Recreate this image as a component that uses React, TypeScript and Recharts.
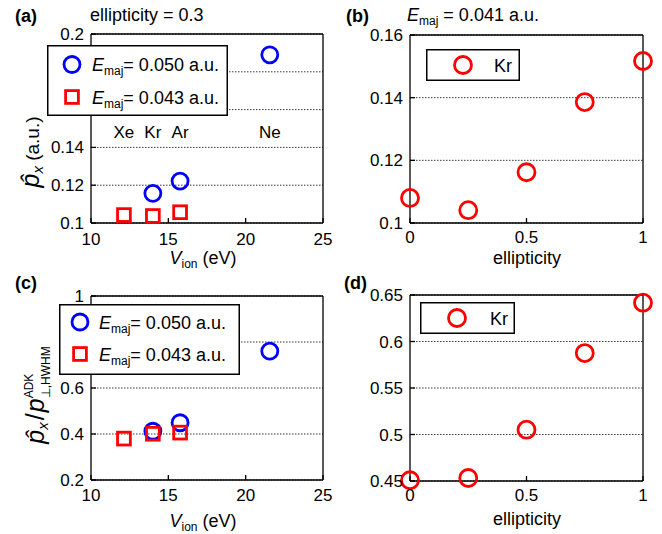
import React from "react";
import { ScatterChart, Scatter, XAxis, YAxis, CartesianGrid, Legend, ReferenceDot } from "recharts";

const FONT = '"Liberation Sans", Arial, Helvetica, sans-serif';
const BLUE = "#0000ff";
const RED = "#ff0000";

// rare gases and their ionization potentials (eV)
const GASES = ["Xe", "Kr", "Ar", "Ne"];
const V_ION = [12.13, 14.0, 15.76, 21.56];

// (a) p_x (a.u.) at ellipticity 0.3, null = no point
const PX_E050 = [null, 0.1157, 0.1222, 0.189];
const PX_E043 = [0.1042, 0.1037, 0.1057, null];

// (c) p_x / p_perp,HWHM (ADK)
const RATIO_E050 = [null, 0.412, 0.449, 0.76];
const RATIO_E043 = [0.38, 0.401, 0.406, null];

// (b), (d) Kr vs ellipticity
const ELLIPTICITY = [0, 0.25, 0.5, 0.75, 1];
const PX_KR = [0.108, 0.1041, 0.1162, 0.1386, 0.1517];
const RATIO_KR = [0.4508, 0.4532, 0.5052, 0.5876, 0.6417];

const V_TICKS = [10, 15, 20, 25];
const ELL_TICKS = [0, 0.5, 1];
const PX_TICKS_A = [0.1, 0.12, 0.14, 0.16, 0.18, 0.2];
const PX_TICKS_B = [0.1, 0.12, 0.14, 0.16];
const RATIO_TICKS_C = [0.2, 0.4, 0.6, 0.8, 1];
const RATIO_TICKS_D = [0.45, 0.5, 0.55, 0.6, 0.65];

const FIELD_HIGH = "0.050";
const FIELD_LOW = "0.043";
const FIELD_KR = "0.041";
const ELL_A = "0.3";
const GAS_LABEL_Y = 0.148;

// chart canvas is a bit larger than the 331x267 cell so edge labels aren't clipped
const W = 345;
const H = 280;
const AXIS = { stroke: "#000", strokeWidth: 1.3 };
const TICK = { fill: "#000", fontSize: 17 };

const pts = (xs: number[], ys: (number | null)[]) =>
  xs.map((x, i) => ({ x, y: ys[i] })).filter((p) => p.y != null);

function marker(kind: string, color: string, cx: number, cy: number, r: number) {
  if (kind === "square") {
    const s = r * 1.6;
    return <rect x={cx - s / 2} y={cy - s / 2} width={s} height={s} fill="none" stroke={color} strokeWidth={2.8} />;
  }
  return <circle cx={cx} cy={cy} r={r} fill="none" stroke={color} strokeWidth={2.8} />;
}

function emaj(x: number, y: number, rest: string, size = 18) {
  return (
    <text x={x} y={y} fontSize={size} fill="#000">
      <tspan fontStyle="italic">E</tspan>
      <tspan fontSize={12} dy={4}>maj</tspan>
      <tspan dy={-4}>{rest}</tspan>
    </text>
  );
}

function makeLegend(cfg: any, order: string[]) {
  return ({ payload }: any) => {
    const items = [...(payload || [])].sort((a: any, b: any) => order.indexOf(a.value) - order.indexOf(b.value));
    return (
      <svg width={cfg.width} height={cfg.height} style={{ display: "block" }}>
        <rect x={0.75} y={0.75} width={cfg.width - 1.5} height={cfg.height - 1.5} fill="#fff" stroke="#000" strokeWidth={1.5} />
        {items.map((entry: any, i: number) => {
          const cy = cfg.row0 + i * cfg.rowGap;
          const name: string = entry.value;
          return (
            <g key={i}>
              {marker(entry.type, entry.color, cfg.markerX, cy, cfg.r)}
              {name.startsWith("Emaj")
                ? emaj(cfg.textX, cy + 6.5, name.slice(4))
                : <text x={cfg.textX} y={cy + 6.5} fontSize={18} fill="#000">{name}</text>}
            </g>
          );
        })}
      </svg>
    );
  };
}

function Panel(p: any) {
  const [L, R, T, B] = p.box;
  const margin = { top: T - 1, left: L - 60, right: W - R - 1, bottom: H - B - 30 };
  const lg = p.legend;
  const order = p.series.map((s: any) => s.name);
  return (
    <div style={{ position: "absolute", left: p.left, top: p.top, width: W, height: H }}>
      <ScatterChart width={W} height={H} margin={margin}>
        <CartesianGrid vertical={false} stroke="#222" strokeDasharray="1.5 1.5" strokeWidth={0.9} />
        <XAxis dataKey="x" type="number" domain={p.xDomain} ticks={p.xTicks} interval={0} height={30}
          tickSize={-5} tickMargin={5 + p.xTickGap} axisLine={AXIS} tickLine={AXIS} tick={TICK}
          label={p.xLabel} />
        <XAxis xAxisId="top" orientation="top" type="number" domain={p.xDomain} ticks={p.xTicks} interval={0}
          height={1} tickSize={-5} tick={false} axisLine={AXIS} tickLine={AXIS} />
        <YAxis dataKey="y" type="number" domain={p.yDomain} ticks={p.yTicks} interval={0} width={60}
          tickSize={-5} tickMargin={12} axisLine={AXIS} tickLine={AXIS} tick={TICK} label={p.yLabel} />
        <YAxis yAxisId="right" orientation="right" type="number" domain={p.yDomain} ticks={p.yTicks} interval={0}
          width={1} tickSize={-5} tick={false} axisLine={AXIS} tickLine={AXIS} />
        {p.series.map((s: any) => (
          <Scatter key={s.name} name={s.name} data={s.data} fill={s.color} legendType={s.kind}
            isAnimationActive={false}
            shape={(d: any) => marker(s.kind, s.color, d.cx, d.cy, s.r)} />
        ))}
        {p.children}
        <Legend content={makeLegend(lg, order)} layout="horizontal" verticalAlign="middle" align="center"
          wrapperStyle={{ left: lg.left, top: lg.top, width: lg.width, height: lg.height }} />
      </ScatterChart>
      <svg width={W} height={H} style={{ position: "absolute", left: 0, top: 0, pointerEvents: "none" }}>
        {p.overlay}
      </svg>
    </div>
  );
}

const vionLabel = (cx: number, y: number) => () => (
  <text x={cx} y={y} textAnchor="middle" fontSize={18} fill="#000">
    <tspan fontStyle="italic">V</tspan>
    <tspan fontSize={12} dy={4}>ion</tspan>
    <tspan dy={-4}> (eV)</tspan>
  </text>
);

const ellLabel = (cx: number, y: number) => () => (
  <text x={cx} y={y} textAnchor="middle" fontSize={18} fill="#000">ellipticity</text>
);

const pxLabel = () => (
  <g transform="translate(39, 152) rotate(-90)">
    <text textAnchor="middle" fontSize={19} fill="#000">
      <tspan fontStyle="italic" fontSize={25}>{"p\u0302"}</tspan>
      <tspan fontStyle="italic" fontSize={15} dy={4}>x</tspan>
      <tspan dy={-4}> (a.u.)</tspan>
    </text>
  </g>
);

const ratioLabel = () => (
  <g transform="translate(44, 128) rotate(-90)">
    <text textAnchor="middle" fontSize={25} fill="#000">
      <tspan fontStyle="italic">{"p\u0302"}</tspan>
      <tspan fontStyle="italic" fontSize={15} dy={4}>x</tspan>
      <tspan dy={-4} dx={2}>/</tspan>
      <tspan fontStyle="italic" dx={1}>p</tspan>
      <tspan fontSize={12} dy={-11}>ADK</tspan>
      <tspan fontSize={12} dx={-24.7} dy={17}>{"\u22a5,HWHM"}</tspan>
    </text>
  </g>
);

export default function App() {
  const vSeries = (hi: (number | null)[], lo: (number | null)[]) => [
    { name: `Emaj= ${FIELD_HIGH} a.u.`, data: pts(V_ION, hi), color: BLUE, kind: "circle", r: 8 },
    { name: `Emaj= ${FIELD_LOW} a.u.`, data: pts(V_ION, lo), color: RED, kind: "square", r: 8 },
  ];
  const krSeries = (ys: number[]) => [
    { name: "Kr", data: pts(ELLIPTICITY, ys), color: RED, kind: "circle", r: 8.5 },
  ];
  return (
    <div style={{ position: "absolute", left: 0, top: 0, width: 662, height: 534, background: "#fff", fontFamily: FONT, overflow: "hidden" }}>
      <Panel left={0} top={0} box={[91, 323, 34, 223]} xDomain={[10, 25]} xTicks={V_TICKS}
        yDomain={[0.1, 0.2]} yTicks={PX_TICKS_A} xTickGap={10} series={vSeries(PX_E050, PX_E043)}
        xLabel={vionLabel(203, 264)} yLabel={pxLabel}
        legend={{ left: 47, top: 45, width: 181, height: 71, row0: 19.5, rowGap: 32.5, markerX: 25, textX: 45, r: 8 }}
        overlay={<>
          <text x={15} y={22} fontSize={18} fontWeight="bold">(a)</text>
          <text x={90} y={21} fontSize={18}>ellipticity = {ELL_A}</text>
        </>}>
        {GASES.map((g, i) => (
          <ReferenceDot key={g} x={V_ION[i]} y={GAS_LABEL_Y} r={1} fill="none" stroke="none"
            label={{ value: g, position: "center", fontSize: 17, fill: "#000" }} />
        ))}
      </Panel>
      <Panel left={331} top={0} box={[79, 312, 35, 223]} xDomain={[0, 1]} xTicks={ELL_TICKS}
        yDomain={[0.1, 0.16]} yTicks={PX_TICKS_B} xTickGap={8} series={krSeries(PX_KR)}
        xLabel={ellLabel(196, 264)} yLabel={undefined}
        legend={{ left: 95, top: 49, width: 94, height: 32, row0: 16, rowGap: 0, markerX: 37, textX: 68, r: 8.5 }}
        overlay={<>
          <text x={15} y={22} fontSize={18} fontWeight="bold">(b)</text>
          {emaj(76, 21, ` = ${FIELD_KR} a.u.`)}
        </>} />
      <Panel left={0} top={267} box={[91, 323, 29, 213]} xDomain={[10, 25]} xTicks={V_TICKS}
        yDomain={[0.2, 1]} yTicks={RATIO_TICKS_C} xTickGap={9} series={vSeries(RATIO_E050, RATIO_E043)}
        xLabel={vionLabel(203, 260)} yLabel={ratioLabel}
        legend={{ left: 59, top: 37, width: 181, height: 71, row0: 18, rowGap: 32, markerX: 21, textX: 40, r: 8 }}
        overlay={<text x={15} y={22} fontSize={18} fontWeight="bold">(c)</text>} />
      <Panel left={331} top={267} box={[79, 312, 28, 214]} xDomain={[0, 1]} xTicks={ELL_TICKS}
        yDomain={[0.45, 0.65]} yTicks={RATIO_TICKS_D} xTickGap={8} series={krSeries(RATIO_KR)}
        xLabel={ellLabel(196, 258)} yLabel={undefined}
        legend={{ left: 89, top: 35, width: 95, height: 32, row0: 16, rowGap: 0, markerX: 37, textX: 70, r: 8.5 }}
        overlay={<text x={13} y={22} fontSize={18} fontWeight="bold">(d)</text>} />
    </div>
  );
}
